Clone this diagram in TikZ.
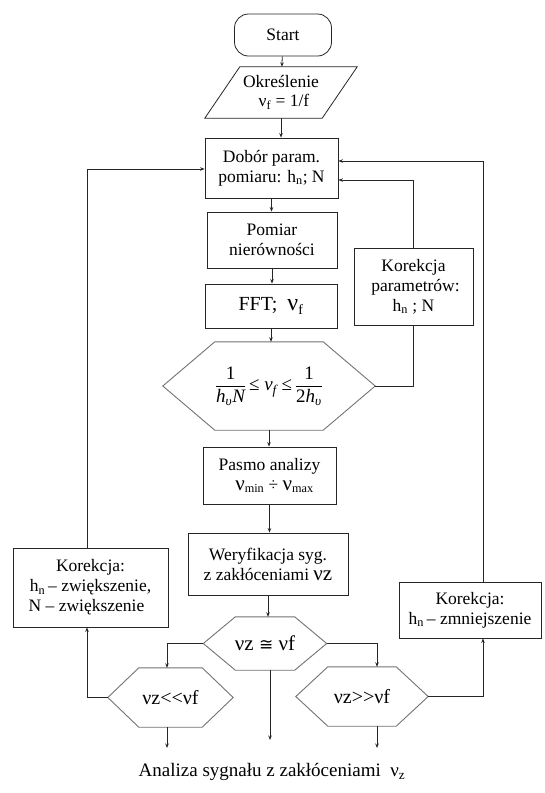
\documentclass[tikz,border=0pt]{standalone}
\usepackage{fontspec}
\setmainfont{Liberation Serif}
\newfontfamily\symfont{DejaVu Sans}
\usepackage{amsmath}
\usetikzlibrary{arrows.meta,calc}
\newcommand{\ti}[1]{\text{\itshape #1}}
\newcommand{\hsub}{h\textsubscript{n}}
\begin{document}
\begin{tikzpicture}[x=1pt,y=-1pt,
  every node/.style={font=\fontsize{17.5}{20}\selectfont, inner sep=0pt, align=center},
  line/.style={line width=0.8pt, draw=black!85},
  arr/.style={line, -{Stealth[length=4.5pt,width=3.5pt]}},
  box/.style={draw=black!85, line width=0.8pt},
  hexline/.style={draw=black!55, line width=0.9pt},
  big/.style={font=\fontsize{20}{22}\selectfont}
]
\fill[white] (0,0) rectangle (545,793);
\useasboundingbox (0,0) rectangle (545,793);

% nodes
\node[box, rounded corners=14pt, minimum width=97pt, minimum height=42pt] (start) at (283,35) {Start};
\node[minimum width=117pt, minimum height=51pt] (para) at (281,92.5) {Określenie\\[-1pt]\hspace*{6pt}ν\textsubscript{f} = 1/f};
\draw[box] ([xshift=17.5pt]para.north west) -- ([xshift=17.5pt]para.north east)
  -- ([xshift=-17.5pt]para.south east) -- ([xshift=-17.5pt]para.south west) -- cycle;

\node[box, minimum width=133pt, minimum height=60pt] (dobor) at (271.5,168) {Dobór param.\\pomiaru: \hsub; N};
\node[box, minimum width=130pt, minimum height=56pt] (pomiar) at (272,240) {Pomiar\\nierówności};
\node[box, minimum width=132pt, minimum height=44pt, big] (fft) at (271,306) {FFT;\ \ {\fontsize{24}{24}\selectfont ν}\textsubscript{f}};

\node[minimum width=212pt, minimum height=88pt, font=\fontsize{19}{22}\selectfont] (hex1) at (269,386)
  {$\dfrac{\text{1}}{\ti{h}_{\ti{υ}}\ti{N}}\,\text{≤}\;\ti{ν}_{\ti{f}}\;\text{≤}\,\dfrac{\text{1}}{\text{2}\ti{h}_{\ti{υ}}}$};
\draw[hexline] (hex1.west) -- ([xshift=52pt]hex1.north west) -- ([xshift=-52pt]hex1.north east)
  -- (hex1.east) -- ([xshift=-52pt]hex1.south east) -- ([xshift=52pt]hex1.south west) -- cycle;

\node[box, minimum width=133pt, minimum height=57pt] (pasmo) at (269.5,475.5) {Pasmo analizy\\\hspace*{10pt}{\fontsize{21}{21}\selectfont ν}\textsubscript{min} ÷ {\fontsize{21}{21}\selectfont ν}\textsubscript{max}};
\node[box, minimum width=160pt, minimum height=62pt] (weryf) at (268,564) {Weryfikacja syg.\\z zakłóceniami {\fontsize{21}{21}\selectfont νz}};

\node[minimum width=123pt, minimum height=53pt, font=\fontsize{21}{22}\selectfont] (hex2) at (265,643.5) {νz {\symfont\fontsize{17}{17}\selectfont ≅} νf};
\draw[hexline] (hex2.west) -- ([xshift=32pt]hex2.north west) -- ([xshift=-32pt]hex2.north east)
  -- (hex2.east) -- ([xshift=-32pt]hex2.south east) -- ([xshift=32pt]hex2.south west) -- cycle;

\node[minimum width=125pt, minimum height=59pt, font=\fontsize{20}{22}\selectfont] (hex3) at (170.5,697.5) {νz<{}<νf};
\draw[hexline] (hex3.west) -- ([xshift=31pt]hex3.north west) -- ([xshift=-31pt]hex3.north east)
  -- (hex3.east) -- ([xshift=-31pt]hex3.south east) -- ([xshift=31pt]hex3.south west) -- cycle;

\node[minimum width=132pt, minimum height=59pt, font=\fontsize{20}{22}\selectfont] (hex4) at (362,696.5) {νz>{}>νf};
\draw[hexline] (hex4.west) -- ([xshift=32pt]hex4.north west) -- ([xshift=-32pt]hex4.north east)
  -- (hex4.east) -- ([xshift=-32pt]hex4.south east) -- ([xshift=32pt]hex4.south west) -- cycle;

\node[box, minimum width=155pt, minimum height=79pt] (korL) at (90.5,587.5) {Korekcja:\\\hsub\,– zwiększenie,\\N – zwiększenie\hspace*{8pt}};
\node[box, minimum width=142pt, minimum height=56pt] (korR) at (470,610) {Korekcja:\\\hsub\,– zmniejszenie};
\node[box, minimum width=119pt, minimum height=77pt] (korP) at (413.5,286.5) {Korekcja\\\hspace*{4pt}parametrów:\\\hsub\ ; N};

\node[font=\fontsize{19}{22}\selectfont] (caption) at (272,772) {Analiza sygnału z zakłóceniami\ \ ν\textsubscript{z}};

% free ends
\coordinate (e2) at (270,740);
\coordinate (e3) at (167,748);
\coordinate (e4) at (377,748);

% main column
\draw[arr] (start) -- (para);
\draw[arr] (para.south) -- (para.south |- dobor.north);
\draw[arr] (dobor.south) -- (dobor.south |- pomiar.north);
\draw[arr] (pomiar.south) -- (pomiar.south |- fft.north);
\draw[arr] (fft.south) -- (fft.south |- hex1.north);
\draw[arr] (hex1.south) -- (hex1.south |- pasmo.north);
\draw[arr] (pasmo.south) -- (pasmo.south |- weryf.north);
\draw[arr] (weryf.south) -- (weryf.south |- hex2.north);
\draw[arr] (hex2.south -| e2) -- (e2);

% branches
\draw[arr] (hex2.west) -| (hex2.west -| e3) -- (e3 |- hex3.north);
\draw[arr] (hex2.east) -| (hex2.east -| e4) -- (e4 |- hex4.north);
\draw[arr] (hex3.south -| e3) -- (e3);
\draw[arr] (hex4.south -| e4) -- (e4);

% feedback loops
\coordinate (lx) at (87,0);
\coordinate (rx) at (483,0);
\draw[arr] (hex3.west) -- (hex3.west -| lx) -- (lx |- korL.south);
\draw[arr] (korL.north -| lx) -- ([yshift=-1pt]lx |- dobor.west) -- ([yshift=-1pt]dobor.west);
\draw[arr] (hex4.east) -- (hex4.east -| rx) -- (rx |- korR.south);
\draw[arr] (korR.north -| rx) -- ([yshift=7pt]rx |- dobor.east) -- ([yshift=7pt]dobor.east);
\draw[line] (hex1.east) -| (korP.south);
\draw[arr] (korP.north) |- ([yshift=-12pt]dobor.east);
\end{tikzpicture}
\end{document}
